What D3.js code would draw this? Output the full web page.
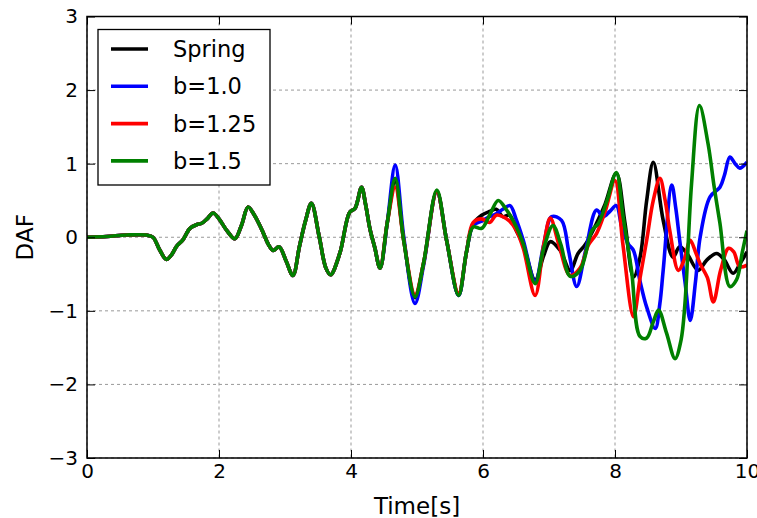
<!DOCTYPE html>
<html>
<head>
<meta charset="utf-8">
<script src="https://cdn.jsdelivr.net/npm/d3@7"></script>
<style>
  body { margin: 0; background: #fff; }
  svg { display: block; font-family: "DejaVu Sans", sans-serif; }
</style>
</head>
<body>
<svg id="chart" width="757" height="518"></svg>
<script>
// shared start: all four curves coincide up to ~4.5 s
var headData = [[0,0],[0.3,0.01],[0.6,0.03],[0.9,0.03],[1.0,0.0],[1.1,-0.17],[1.2,-0.30],[1.28,-0.24],
  [1.36,-0.12],[1.45,-0.04],[1.56,0.12],[1.66,0.17],[1.74,0.19],[1.82,0.25],[1.91,0.33],[2.0,0.25],
  [2.12,0.09],[2.24,-0.02],[2.34,0.16],[2.44,0.41],[2.53,0.31],[2.65,0.10],[2.75,-0.10],[2.82,-0.18],
  [2.91,-0.13],[3.02,-0.33],[3.12,-0.52],[3.22,-0.12],[3.31,0.22],[3.40,0.46],[3.52,0.0],[3.62,-0.42],
  [3.69,-0.51],[3.83,-0.22],[3.98,0.34],[4.06,0.39],[4.16,0.68],[4.22,0.45],[4.29,0.10],[4.36,-0.14],
  [4.44,-0.42],[4.55,0.2]];

var springTail = [[4.67,0.76],[4.80,-0.05],[4.97,-0.82],[5.1,-0.35],[5.30,0.62],[5.45,-0.05],[5.63,-0.79],
  [5.75,-0.2],[5.85,0.18],[5.98,0.3],[6.1,0.35],[6.2,0.38],[6.3,0.28],[6.4,0.3],[6.5,0.1],[6.61,-0.1],
  [6.79,-0.58],[6.92,-0.25],[7.02,-0.06],[7.17,-0.18],[7.32,-0.45],[7.44,-0.22],[7.55,-0.1],[7.72,0.19],
  [7.85,0.45],[8.02,0.87],[8.15,0.2],[8.28,-0.54],[8.38,-0.27],[8.48,0.5],[8.58,1.02],[8.73,0.23],
  [8.88,-0.27],[8.98,-0.13],[9.09,-0.22],[9.26,-0.45],[9.39,-0.31],[9.54,-0.22],[9.65,-0.3],[9.79,-0.49],
  [9.9,-0.35],[10.0,-0.2]];

var b100Tail = [[4.67,0.98],[4.80,0.0],[4.97,-0.90],[5.1,-0.38],[5.30,0.62],[5.45,-0.05],[5.63,-0.79],
  [5.75,-0.2],[5.85,0.16],[5.98,0.22],[6.1,0.28],[6.2,0.32],[6.3,0.38],[6.41,0.43],[6.5,0.25],[6.61,-0.04],
  [6.79,-0.6],[6.92,-0.1],[7.04,0.28],[7.19,0.23],[7.3,-0.2],[7.42,-0.67],[7.55,-0.2],[7.72,0.37],
  [7.82,0.28],[7.92,0.35],[8.02,0.43],[8.1,0.15],[8.2,-0.09],[8.28,-0.18],[8.38,-0.6],[8.48,-0.95],
  [8.61,-1.24],[8.68,-0.9],[8.73,-0.45],[8.86,0.71],[8.92,0.4],[8.98,-0.04],[9.06,-0.6],[9.14,-1.13],
  [9.22,-0.6],[9.29,0.0],[9.44,0.55],[9.59,0.68],[9.66,0.85],[9.74,1.09],[9.82,1.0],[9.89,0.94],[10.0,1.02]];

var b125Tail = [[4.67,0.68],[4.80,-0.05],[4.97,-0.78],[5.1,-0.35],[5.30,0.62],[5.45,-0.05],[5.63,-0.76],
  [5.75,-0.2],[5.85,0.2],[5.98,0.25],[6.1,0.2],[6.2,0.3],[6.3,0.28],[6.4,0.22],[6.5,0.1],[6.61,-0.15],
  [6.79,-0.79],[6.92,-0.1],[7.02,0.26],[7.15,-0.1],[7.32,-0.52],[7.47,-0.42],[7.6,-0.1],[7.72,0.05],
  [7.85,0.35],[8.0,0.77],[8.12,-0.1],[8.28,-1.08],[8.38,-0.55],[8.48,-0.04],[8.58,0.5],[8.68,0.80],
  [8.76,0.5],[8.83,0.09],[8.96,-0.45],[9.05,-0.3],[9.14,-0.04],[9.22,-0.2],[9.29,-0.36],[9.4,-0.55],
  [9.49,-0.88],[9.6,-0.45],[9.72,-0.15],[9.8,-0.2],[9.89,-0.4],[10.0,-0.38]];

var b150Tail = [[4.67,0.80],[4.80,-0.05],[4.97,-0.81],[5.1,-0.35],[5.30,0.64],[5.45,-0.05],[5.63,-0.79],
  [5.75,-0.2],[5.85,0.14],[5.98,0.12],[6.1,0.3],[6.23,0.5],[6.35,0.38],[6.5,0.15],[6.61,-0.09],
  [6.79,-0.63],[6.92,-0.15],[7.06,0.16],[7.18,-0.1],[7.32,-0.53],[7.47,-0.45],[7.65,0.09],[7.75,0.19],
  [7.88,0.5],[8.02,0.88],[8.12,0.3],[8.25,-0.45],[8.38,-1.35],[8.48,-1.37],[8.58,-1.15],[8.66,-0.99],
  [8.78,-1.3],[8.91,-1.65],[9.0,-1.4],[9.06,-0.9],[9.16,0.73],[9.28,1.79],[9.41,1.27],[9.5,0.7],
  [9.59,0.19],[9.74,-0.67],[9.84,-0.58],[9.93,-0.2],[10.0,0.09]];

var seriesNames = ["Spring", "b=1.0", "b=1.25", "b=1.5"];
var seriesColors = ["#000000", "#0000ff", "#ff0000", "#008000"];
var seriesTails = [springTail, b100Tail, b125Tail, b150Tail];
var xTicks = [0, 2, 4, 6, 8, 10];
var yTicks = [-3, -2, -1, 0, 1, 2, 3];

var plotL = 87, plotR = 747, plotT = 16.5, plotB = 458;
var svg = d3.select('#chart');

var x = d3.scaleLinear().domain([0, 10]).range([plotL, plotR]);
var y = d3.scaleLinear().domain([-3, 3]).range([plotB, plotT]);

// grid
svg.append('g').selectAll('line').data(xTicks).enter().append('line')
  .attr('x1', function (d) { return x(d); }).attr('x2', function (d) { return x(d); })
  .attr('y1', plotT).attr('y2', plotB)
  .attr('stroke', '#999').attr('stroke-width', 1).attr('stroke-dasharray', '3,3');
svg.append('g').selectAll('line').data(yTicks).enter().append('line')
  .attr('y1', function (d) { return y(d); }).attr('y2', function (d) { return y(d); })
  .attr('x1', plotL).attr('x2', plotR)
  .attr('stroke', '#999').attr('stroke-width', 1).attr('stroke-dasharray', '3,3');

svg.append('clipPath').attr('id', 'plotclip').append('rect')
  .attr('x', plotL).attr('y', plotT).attr('width', plotR - plotL).attr('height', plotB - plotT);

var line = d3.line()
  .x(function (d) { return x(d[0]); })
  .y(function (d) { return y(d[1]); })
  .curve(d3.curveCatmullRom.alpha(0.5));

svg.append('g').attr('clip-path', 'url(#plotclip)')
  .selectAll('path').data(seriesTails).enter().append('path')
  .attr('d', function (d) { return line(headData.concat(d)); })
  .attr('fill', 'none')
  .attr('stroke', function (d, i) { return seriesColors[i]; })
  .attr('stroke-width', 3.6)
  .attr('stroke-linejoin', 'round');

// axes, ticks point inward
function styleAxis(g) {
  g.attr('font-size', 20).attr('font-family', '"DejaVu Sans", sans-serif');
  g.select('.domain').remove();
  g.selectAll('.tick line').attr('stroke', '#000').attr('stroke-width', 1);
  g.selectAll('.tick text').attr('fill', '#000');
}
svg.append('g').attr('transform', 'translate(0,' + plotB + ')')
  .call(d3.axisBottom(x).tickValues(xTicks).tickSizeInner(-8).tickSizeOuter(0).tickPadding(6).tickFormat(d3.format('d')))
  .call(styleAxis);
svg.append('g').attr('transform', 'translate(0,' + plotT + ')')
  .call(d3.axisTop(x).tickValues(xTicks).tickSizeInner(-8).tickSizeOuter(0).tickFormat(''))
  .call(styleAxis);
svg.append('g').attr('transform', 'translate(' + plotL + ',0)')
  .call(d3.axisLeft(y).tickValues(yTicks).tickSizeInner(-8).tickSizeOuter(0).tickPadding(9).tickFormat(d3.format('d')))
  .call(styleAxis);
svg.append('g').attr('transform', 'translate(' + plotR + ',0)')
  .call(d3.axisRight(y).tickValues(yTicks).tickSizeInner(-8).tickSizeOuter(0).tickFormat(''))
  .call(styleAxis);

svg.append('rect')
  .attr('x', plotL).attr('y', plotT).attr('width', plotR - plotL).attr('height', plotB - plotT)
  .attr('fill', 'none').attr('stroke', '#000').attr('stroke-width', 1.5);

// axis labels
svg.append('text')
  .attr('x', (plotL + plotR) / 2)
  .attr('y', 514)
  .attr('text-anchor', 'middle')
  .attr('font-size', '23px')
  .text('Time[s]');
svg.append('text')
  .attr('transform', 'translate(33,' + ((plotT + plotB) / 2) + ') rotate(-90)')
  .attr('text-anchor', 'middle')
  .attr('font-size', '23px')
  .text('DAF');

// legend
var legend = svg.append('g');
legend.append('rect')
  .attr('x', 98).attr('y', 29.5).attr('width', 172).attr('height', 155.5)
  .attr('fill', '#fff').attr('stroke', '#000').attr('stroke-width', 1.3);
var rows = legend.selectAll('g.row').data(seriesNames).enter().append('g')
  .attr('class', 'row')
  .attr('transform', function (d, i) { return 'translate(0,' + (49 + i * 37.3) + ')'; });
rows.append('line')
  .attr('x1', 111).attr('x2', 148).attr('y1', 0).attr('y2', 0)
  .attr('stroke', function (d, i) { return seriesColors[i]; })
  .attr('stroke-width', 3.6);
rows.append('text')
  .attr('x', 173).attr('y', 0).attr('dy', '0.36em')
  .attr('font-size', '22.5px')
  .text(function (d) { return d; });
</script>
</body>
</html>
